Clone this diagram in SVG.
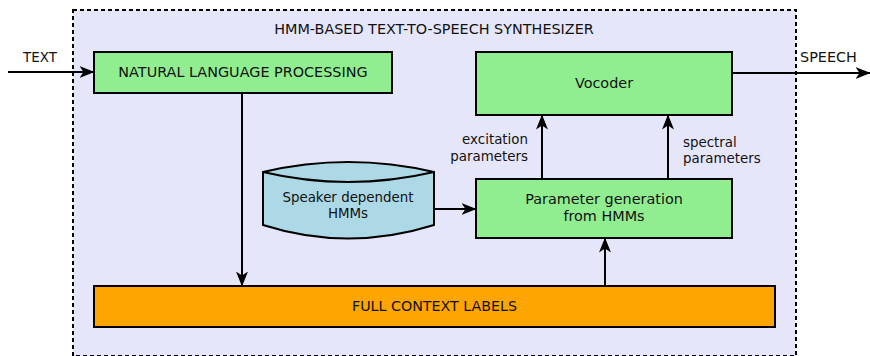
<svg xmlns="http://www.w3.org/2000/svg" width="870" height="356" viewBox="0 0 870 356">
<defs>
<style>
.t{font-family:"DejaVu Sans",sans-serif;font-size:14.4px;fill:#111;}
.s{font-family:"DejaVu Sans",sans-serif;font-size:13.4px;fill:#111;}
.box{fill:#90ee90;stroke:#000;stroke-width:2;}
.c{stroke:#000;stroke-width:2;fill:none;}
</style>
<marker id="ah" viewBox="0 0 15 12" refX="14.5" refY="6" markerWidth="15" markerHeight="12" markerUnits="userSpaceOnUse" orient="auto">
<path d="M0,0 L15,6 L0,12 L4,6 z" fill="#000"/>
</marker>
</defs>
<rect width="870" height="356" fill="#fff"/>
<g id="container">
<rect x="73" y="10" width="723" height="346" fill="#e6e6fa" stroke="#000" stroke-width="2" stroke-dasharray="4,3"/>
<text class="t" x="434" y="34" text-anchor="middle">HMM-BASED TEXT-TO-SPEECH SYNTHESIZER</text>
</g>
<g id="nlp">
<rect class="box" x="94" y="52" width="298" height="41"/>
<text class="t" x="243" y="77" text-anchor="middle">NATURAL LANGUAGE PROCESSING</text>
</g>
<g id="vocoder">
<rect class="box" x="476" y="52" width="256" height="63"/>
<text class="t" x="604" y="88" text-anchor="middle">Vocoder</text>
</g>
<g id="hmms">
<path d="M263,172 Q348,152 434,172 L434,225 Q348,252 263,225 Z" fill="#add8e6" stroke="#000" stroke-width="2"/>
<path d="M263,172 Q348,192 434,172" fill="none" stroke="#000" stroke-width="2"/>
<text class="s" x="348" y="202" text-anchor="middle">Speaker dependent</text>
<text class="s" x="348" y="218" text-anchor="middle">HMMs</text>
</g>
<g id="paramgen">
<rect class="box" x="476" y="179" width="256" height="59"/>
<text class="t" x="604" y="204" text-anchor="middle">Parameter generation</text>
<text class="t" x="604" y="221" text-anchor="middle">from HMMs</text>
</g>
<g id="labels">
<rect x="94" y="286" width="681" height="41" fill="#ffa500" stroke="#000" stroke-width="2"/>
<text x="352" y="311" textLength="165" lengthAdjust="spacingAndGlyphs" style="font-family:'DejaVu Sans Condensed','DejaVu Sans',sans-serif;font-size:14.4px;fill:#111">FULL CONTEXT LABELS</text>
</g>
<g id="connectors">
<line class="c" x1="8" y1="72" x2="94" y2="72" marker-end="url(#ah)"/>
<text class="s" x="40" y="62" text-anchor="middle">TEXT</text>
<line class="c" x1="732" y1="73" x2="870" y2="73" marker-end="url(#ah)"/>
<text class="t" x="800" y="62">SPEECH</text>
<line class="c" x1="242" y1="93" x2="242" y2="286" marker-end="url(#ah)"/>
<line class="c" x1="434" y1="209" x2="476" y2="209" marker-end="url(#ah)"/>
<line class="c" x1="542" y1="179" x2="542" y2="115" marker-end="url(#ah)"/>
<text class="s" x="528" y="144" text-anchor="end">excitation</text>
<text class="s" x="528" y="161" text-anchor="end">parameters</text>
<line class="c" x1="668" y1="179" x2="668" y2="115" marker-end="url(#ah)"/>
<text class="s" x="683" y="147">spectral</text>
<text class="s" x="683" y="163">parameters</text>
<line class="c" x1="605" y1="286" x2="605" y2="238" marker-end="url(#ah)"/>
</g>
</svg>
